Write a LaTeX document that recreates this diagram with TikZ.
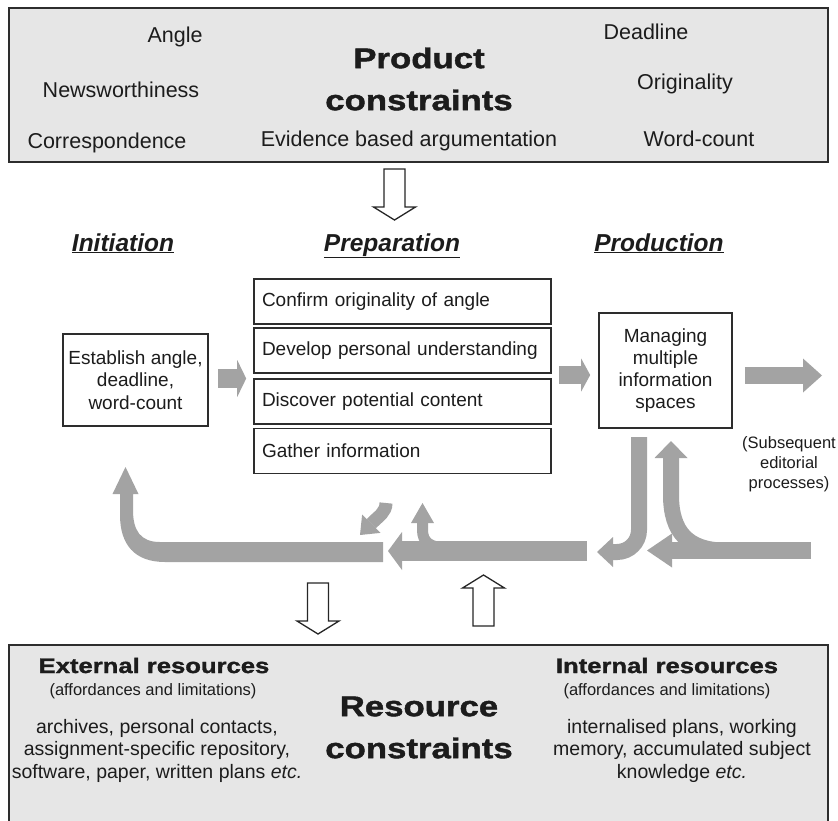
\documentclass[tikz,border=0pt]{standalone}
\usepackage{fontspec}
\setmainfont{Liberation Sans}
\newfontfamily\heavyfont{Liberation Sans}[FakeStretch=1.22,FakeBold=1.5]
\usetikzlibrary{arrows.meta}
\definecolor{panelfill}{RGB}{230,230,230}
\definecolor{edgegray}{RGB}{45,45,45}
\definecolor{flowgray}{RGB}{163,163,163}
\definecolor{ink}{RGB}{28,28,28}
\newcommand{\setfs}[2]{\fontsize{#1}{#2}\selectfont}

\begin{document}
\begin{tikzpicture}[x=1pt,y=-1pt,
  every node/.style={inner sep=0pt, text=ink},
  panel/.style={draw=edgegray, line width=1.8pt, fill=panelfill},
  plain/.style={font=\setfs{21.5}{26}, anchor=base},
  bigtitle/.style={font=\heavyfont\bfseries\setfs{28.5}{42}, align=center},
  subtitle/.style={font=\heavyfont\bfseries\setfs{21}{25}, anchor=base},
  aside/.style={font=\setfs{16.5}{20}, align=center},
  body/.style={font=\setfs{19.5}{22.5}, align=center},
  heading/.style={font=\bfseries\itshape\setfs{24.5}{29}, anchor=base},
  stage/.style={draw=edgegray, line width=1.6pt, fill=white, align=center,
                font=\setfs{19}{22.5}},
  task/.style={stage, text width=281pt, align=left,
               minimum width=297pt, minimum height=45pt},
  band/.style={draw=flowgray, line width=#1},
  gtip/.style 2 args={-{Triangle[length=#1,width=#2,line width=0pt]}},
  hollowdown/.pic={
    \draw[line width=1.3pt, draw=black!85, fill=white, line join=miter]
      (-10.5,0) -- (-10.5,38) -- (-21,38) -- (0,51) -- (21,38)
      -- (10.5,38) -- (10.5,0) -- cycle;}
]
\useasboundingbox (0,0) rectangle (838,820);

% ---- product constraints panel ----
\node[panel, minimum width=819pt, minimum height=154pt] (productpanel) at (418.5,85) {};
\node[plain] (angle) at (175,42) {Angle};
\node[plain] (deadline) at (646,39) {Deadline};
\node[plain] (news) at (121,97) {Newsworthiness};
\node[plain] (originality) at (685,89) {Originality};
\node[plain] (correspondence) at (107,148) {Correspondence};
\node[plain] (evidence) at (409,146) {Evidence based argumentation};
\node[plain] (wordcount) at (699,146) {Word-count};
\node[bigtitle] (producttitle) at (419,79) {Product\\constraints};

% ---- stage headings ----
\node[heading] (initiation) at (123,251) {\underline{Initiation}};
\node[heading] (preparation) at (392,251) {\underline{Preparation}};
\node[heading] (production) at (659,251) {\underline{Production}};

% ---- stage boxes ----
\node[stage, minimum width=145pt, minimum height=92pt] (initiate) at (135.5,380)
  {Establish angle,\\deadline,\\word-count};
\node[task] (confirm) at (402.5,301.5) {Confirm originality of angle};
\node[task] (develop) at (402.5,350.5) {Develop personal understanding};
\node[task] (discover) at (402.5,401.5) {Discover potential content};
\node[task] (gather) at (402.5,451) {Gather information};
\node[stage, minimum width=133pt, minimum height=115pt, font=\setfs{19}{22}] (manage)
  at (665.5,370.5) {Managing\\multiple\\information\\spaces};
\node[aside] (editorial) at (789,464) {(Subsequent\\editorial\\processes)};

% ---- forward flow ----
\path (initiate.east) ++(0,-1.5) coordinate (initout);
\draw[band=19pt, gtip={9pt}{37pt}, shorten <=9pt, shorten >=7pt]
  (initout) -- (initout -| develop.west);
\path (manage.west) ++(0,4.5) coordinate (prodin);
\draw[band=18pt, gtip={9pt}{33pt}, shorten <=7pt, shorten >=8pt]
  (prodin -| develop.east) -- (prodin);
\path (manage.east) ++(0,5) coordinate (prodout);
\coordinate (onward) at (822,375.5);
\draw[band=17pt, gtip={19pt}{34pt}, shorten <=12pt] (prodout) -- (onward);

% ---- return flows ----
\coordinate (retR) at (811,550.5);
\coordinate (retRend) at (647,550.5);
\draw[band=17pt, gtip={25pt}{34pt}] (retR) -- (retRend);

\coordinate (upR) at (671,441);
\draw[band=16pt, gtip={17pt}{33pt}]
  (725,550.5) .. controls (688,550.5) and (671,532) .. (671,495) -- (upR);

\coordinate (downR) at (639,437);
\coordinate (downRend) at (597,552);
\draw[band=16pt, rounded corners=22pt, gtip={16pt}{30pt}]
  (downR) -- (downR |- downRend) -- (downRend);

\coordinate (retM) at (587,551);
\coordinate (retMend) at (388,551);
\draw[band=20pt, gtip={14pt}{38pt}] (retM) -- (retMend);

\coordinate (upM) at (422.5,503);
\draw[band=11pt, gtip={20pt}{23pt}]
  (448,548) .. controls (430,548) and (422.5,542) .. (422.5,530) -- (upM);

\coordinate (downM) at (386,503);
\coordinate (downMend) at (360,535);
\draw[band=13pt, gtip={16pt}{26pt}]
  (downM) .. controls (386,512) and (379,516) .. (373,522) -- (downMend);

\fill[flowgray] (383,542) -- (160,542) .. controls (140,542) and (133,530) .. (133,510)
  -- (133,494) -- (138.5,494) -- (125.5,467) -- (112.5,494) -- (120,494) -- (120,515)
  .. controls (120,545) and (135,562) .. (165,562) -- (383,562) -- cycle;

% ---- constraint arrows ----
\pic at (394.5,169) {hollowdown};
\pic at (318,583) {hollowdown};
\pic[rotate=180] at (483.5,626) {hollowdown};

% ---- resource constraints panel ----
\node[panel, minimum width=819pt, minimum height=200pt] (resourcepanel) at (418.5,745) {};
\node[subtitle] (external) at (154,673) {External resources};
\node[aside, anchor=base] (extnote) at (153,695) {(affordances and limitations)};
\node[body] (extlist) at (157,750.5)
  {archives, personal contacts,\\assignment-specific repository,\\software, paper, written plans \textit{etc.}};
\node[bigtitle] (resourcetitle) at (419,727.5) {Resource\\constraints};
\node[subtitle] (internal) at (667,673) {Internal resources};
\node[aside, anchor=base] (intnote) at (667,695) {(affordances and limitations)};
\node[body] (intlist) at (682,750.5)
  {internalised plans, working\\memory, accumulated subject\\knowledge \textit{etc.}};
\end{tikzpicture}
\end{document}
